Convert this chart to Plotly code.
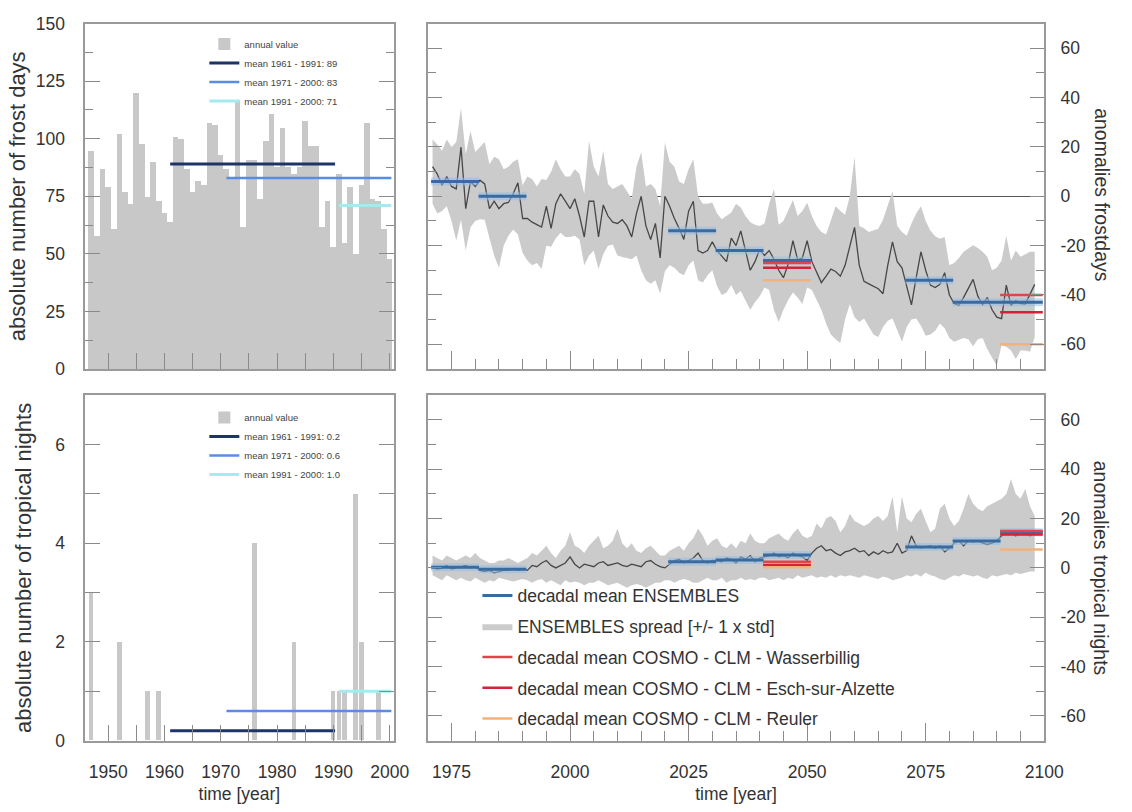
import plotly.graph_objects as go

# ---------------- data ----------------
obs_years = list(range(1947, 2001))
frost_obs = [95, 58, 87, 79, 61, 102, 77, 72, 120, 98,
             75, 90, 73, 68, 64, 101, 100, 87, 77, 82,
             80, 107, 106, 93, 87, 83, 117, 62, 91, 91,
             74, 99, 111, 88, 105, 88, 85, 88, 108, 97,
             97, 62, 73, 53, 85, 55, 79, 50, 80, 107,
             74, 73, 61, 48]
tropical_obs = [3, 0, 0, 0, 0, 2, 0, 0, 0, 0,
                1, 0, 1, 0, 0, 0, 0, 0, 0, 0,
                0, 0, 0, 0, 0, 0, 0, 0, 0, 4,
                0, 0, 0, 0, 0, 0, 2, 0, 0, 0,
                0, 0, 0, 1, 1, 1, 0, 5, 2, 0,
                0, 1, 0, 0]

mean_periods = [(1961, 1990), (1971, 2000), (1991, 2000)]
mean_labels = ["mean 1961 - 1991", "mean 1971 - 2000", "mean 1991 - 2000"]
frost_means = [89, 83, 71]
tropical_means = [0.2, 0.6, 1.0]

scen_years = list(range(1971, 2099))
frost_ens = [12, 9, 4.5, 8, 4, 3, 20, -5, 6, 4,
             6.5, 5, -5, -2, -5, -3, -2.5, 1, 5.5, -9,
             -9, -10.5, -11.5, -12.5, -4, -13, -3, 1, -2, -5,
             -1, -8, -16.5, -2, -2, -16.5, -3.5, -8, -10.5, -11,
             -9.5, -12, -16.5, -7, 0, -12, -17.5, -11, -25, 0,
             -4, -9, -13, -17.5, -6, -2, -22, -23, -22, -18.5,
             -22, -24.5, -26.5, -17, -20, -14, -22, -30, -26.5, -21.5,
             -24, -22, -25.5, -30, -33, -27.5, -18, -25.8, -25, -18,
             -26.5, -31, -35, -32.4, -29.5, -30.5, -32.4, -28, -20, -12.6,
             -28, -34.5, -35.5, -36.5, -37.5, -39.5, -28, -18.5, -26.5, -29,
             -36, -44, -33, -22.5, -30, -36, -37, -35.7, -31, -40,
             -43.5, -44.3, -41, -37, -33.7, -40.5, -44, -41, -46, -49,
             -49.6, -36, -44.3, -42.3, -43.5, -43.7, -40, -35.7]
frost_upper = [23, 21, 18.5, 23, 20, 22, 35.7, 17, 26.5, 18,
               20, 22, 13, 16, 15, 11, 12, 14, 15, 4.5,
               8, 7, 4, 7, 6.6, 10, 15, 11, 8, 8,
               11, 9, 1, 22.5, 12, 8, 18.5, 5, 3, 4,
               5, 2, -1, 12, 17.9, 4, 5, 3, -4, 21.8,
               14, 12, 6, 5, 11, 15, 0, -3, -3, -2.5,
               -7, -9.3, -8, -6.6, -3, -4.5, -8, -10.5, -11.5, -12,
               -11, -3, 3, -11.5, -10, -6, -1.5, -8, -6, -2.6,
               -8, -12, -14.5, -15.5, -10, -4, -6, -7.5, 0, 15.9,
               -12, -13, -14.5, -14, -13.2, -9.5, -4, 2, -12, -14.5,
               -16, -11, -7, -4, -10, -14, -16.2, -17.2, -16.5, -28,
               -27, -25, -22.5, -21, -19.8, -21, -22.5, -24.5, -30, -29,
               -26, -16, -26, -22, -24.5, -23.5, -22.5, -22.5]
frost_lower = [-3, -7, -6, -4, -10, -18, -9.5, -22, -12.5, -10,
               -9.3, -9.5, -17, -24, -29, -20, -16, -13.5, -15.5, -23,
               -26, -28, -27, -29.5, -20, -20.5, -17, -14.8, -16.5, -16.5,
               -16, -17.5, -28, -24, -22, -29.5, -23.5, -20, -19.5, -24,
               -24.6, -25, -25.5, -24, -30, -34, -35.5, -34, -39.5, -30.4,
               -28, -29, -31, -32, -28, -26, -34, -35, -32, -30,
               -36.5, -40, -39, -36, -40, -38.4, -42, -46, -43, -40.5,
               -37, -38, -46, -51, -46, -42, -39, -41, -43.7, -37,
               -38, -42.3, -46, -51.6, -56, -58, -59.5, -50, -43.7, -49,
               -51, -49.5, -53, -56, -57, -53, -50.5, -49.5, -54.2, -59,
               -53, -50, -49.5, -52.5, -56.5, -56, -54.5, -51.6, -53.5, -57.5,
               -59, -58.3, -57.5, -58, -60.8, -58, -57.5, -62, -65.5, -68.8,
               -60.5, -61, -62.5, -66, -62.5, -62.5, -63, -57]

trop_ens = [0.5, -0.5, 0, 1, -0.5, 0, 0.5, 1, 0, 0.5,
            -1, -1.5, -1, -2, -1.5, -1, -1, -0.5, -1, -0.5,
            -1, 1, 0.5, 2, 3, 1, 0, 1, 2, 4.5,
            1.5, 0, 1.5, 1, 0.5, 2, 2.5, 1, 1.5, 2,
            1, 0.5, 1.5, 1, 0.5, 2.5, 3, 1.5, 0.5, 0,
            1.5, 3, 3.5, 2, 3, 4, 6, 3, 2, 3,
            3, 2.5, 4, 3.5, 2, 4.5, 3.5, 5, 2.5, 4,
            4.5, 5, 6, 4.5, 5, 4, 6, 5, 4.5, 3,
            6, 8, 9, 7, 7.5, 6, 5, 6.5, 7, 8,
            6.5, 7, 5, 6.5, 5.5, 7, 6, 6.5, 10, 6,
            7, 13, 9, 8, 8.5, 9, 8, 9, 6.5, 8,
            10, 11, 9, 11, 10.5, 11, 10, 9.5, 10, 11,
            13, 14, 14.5, 13, 15, 14, 13, 14.5]
trop_upper = [5, 4, 3, 5, 4, 3, 4, 5, 4, 6,
              4, 3, 2, 2, 3, 3, 4, 3, 2, 3,
              4, 6, 5, 7, 9, 6, 4, 7, 9, 14.5,
              9, 8, 6, 9, 11, 13, 8, 9, 11, 16,
              10, 8, 10, 7, 6, 8, 9, 7, 5, 5,
              7, 8, 9, 7, 10, 12, 16, 13, 9, 11,
              12, 9, 8, 10, 8, 11, 10, 14, 11, 10,
              10, 12, 13, 14, 12, 11, 14, 16, 13, 12,
              13, 18, 16, 20, 21, 19, 14.5, 17, 22, 19,
              18, 17, 18, 20, 21, 19, 21, 29, 14.5, 29,
              20, 18.5, 22, 24, 19, 14.5, 16, 24, 26, 20,
              17, 19, 24, 30, 26, 24, 23, 25, 26, 27,
              28, 30, 36, 30, 28, 32, 25, 21]
trop_lower = [-3, -4, -5, -3, -4, -5, -4, -5, -5.5, -4,
              -5, -6, -5, -5.5, -4, -4.5, -5, -5.5, -5, -4.5,
              -5, -6, -5, -4.5, -6, -5, -6, -7, -5, -6,
              -5.5, -6, -7, -6, -6, -5, -6, -7, -6.5, -6,
              -7, -8, -7, -6.5, -7, -8, -7, -6, -6, -5,
              -5, -6, -5, -4.5, -5, -6, -6, -5, -4, -5,
              -5, -4, -6, -5, -5, -4, -5, -4.5, -5, -4,
              -4, -5, -4.5, -4, -5, -4, -4.5, -3, -4, -3.5,
              -3, -4, -3.5, -4, -3, -4, -3, -3.5, -3, -3.5,
              -4, -3, -3.5, -4, -4.5, -3.5, -4, -5, -4.5, -4,
              -3, -3.5, -2.5, -3.5, -2, -3, -3.5, -4.5, -5, -4,
              -3, -3.5, -2.5, -3, -3.5, -3, -4, -4.5, -3, -3.5,
              -3, -2.5, -3, -2, -2.5, -2, -1.5, -1.5]

decades = [1971, 1981, 2021, 2031, 2041, 2071, 2081, 2091]
frost_dec_ens = [6, 0, -14, -22, -26, -34, -43, -43]
trop_dec_ens = [0.3, -0.5, 2.5, 3.2, 5.2, 8.5, 10.9, 14.5]
cosmo_decades = [2041, 2091]
cosmo_names = ["Wasserbillig", "Esch-sur-Alzette", "Reuler"]
frost_cosmo = {"Wasserbillig": [-27, -40], "Esch-sur-Alzette": [-29, -47], "Reuler": [-34, -60]}
trop_cosmo = {"Wasserbillig": [2.5, 15], "Esch-sur-Alzette": [1.2, 13.5], "Reuler": [0.3, 7.5]}

anom_ticks = [-60, -40, -20, 0, 20, 40, 60]
anom_ticktext = ["-60", "-40", "-20", "0", "20", "40", "60"]

# ---------------- styling ----------------
FONT = "Liberation Sans, Arial, sans-serif"
TXT = "#333333"
GREY_BAR = "#c8c8c8"
BAND = "#cbcbcb"
MEAN_COLORS = ["#1c3468", "#5b8ce4", "#a6eaf0"]
MEAN_WIDTHS = [3, 2.5, 3]
ENS_BLUE = "#3a6a9e"
COSMO_COLORS = {"Wasserbillig": "#e2434c", "Esch-sur-Alzette": "#d42239", "Reuler": "#f3b27a"}
TICK_SIZE = 17.5
LTITLE_SIZE = 22
RTITLE_SIZE = 19.5


def seg_xy(starts, values, length):
    xs, ys = [], []
    for s, v in zip(starts, values):
        xs += [s - 0.3, min(s + length, 2099.7), None]
        ys += [v, v, None]
    return xs, ys


fig = go.Figure()

for (xa, ya, vals, means, leg, fmt, bw) in [
        ("x", "y", frost_obs, frost_means, "legend", "{:d}", 1.0),
        ("x3", "y3", tropical_obs, tropical_means, "legend2", "{:.1f}", 0.8)]:
    fig.add_trace(go.Bar(x=obs_years, y=vals, width=bw, marker_color=GREY_BAR,
                         marker_line_width=0, name="annual value",
                         xaxis=xa, yaxis=ya, legend=leg, legendgroup=leg + "a"))
    for i, ((a, b), m) in enumerate(zip(mean_periods, means)):
        fig.add_trace(go.Scatter(x=[a, b + 0.3], y=[m, m], mode="lines",
                                 line=dict(color=MEAN_COLORS[i], width=MEAN_WIDTHS[i]),
                                 name=mean_labels[i] + ": " + fmt.format(m),
                                 xaxis=xa, yaxis=ya, legend=leg,
                                 legendgroup=leg + str(i)))

for (xa, ya, ens, up, lo, dec, cos, show) in [
        ("x2", "y2", frost_ens, frost_upper, frost_lower, frost_dec_ens, frost_cosmo, False),
        ("x4", "y4", trop_ens, trop_upper, trop_lower, trop_dec_ens, trop_cosmo, True)]:
    fig.add_trace(go.Scatter(x=scen_years, y=up, mode="lines", line=dict(width=0),
                             showlegend=False, hoverinfo="skip", xaxis=xa, yaxis=ya))
    fig.add_trace(go.Scatter(x=scen_years, y=lo, mode="lines", line=dict(width=0),
                             fill="tonexty", fillcolor=BAND,
                             name="ENSEMBLES spread [+/- 1 x std]", showlegend=show,
                             legend="legend3", legendgroup="g2", legendrank=2,
                             xaxis=xa, yaxis=ya))
    fig.add_trace(go.Scatter(x=scen_years, y=ens, mode="lines",
                             line=dict(color="#474747", width=1.3),
                             showlegend=False, xaxis=xa, yaxis=ya))
    sx, sy = seg_xy(decades, dec, 9.8)
    fig.add_trace(go.Scatter(x=sx, y=sy, mode="lines",
                             line=dict(color="rgba(150,190,230,0.55)", width=8),
                             showlegend=False, hoverinfo="skip", xaxis=xa, yaxis=ya))
    fig.add_trace(go.Scatter(x=sx, y=sy, mode="lines",
                             line=dict(color=ENS_BLUE, width=3),
                             name="decadal mean ENSEMBLES", showlegend=show,
                             legend="legend3", legendgroup="g1", legendrank=1,
                             xaxis=xa, yaxis=ya))
    for k, nm in enumerate(cosmo_names):
        cx, cy = seg_xy(cosmo_decades, cos[nm], 9.8)
        fig.add_trace(go.Scatter(x=cx, y=cy, mode="lines",
                                 line=dict(color=COSMO_COLORS[nm], width=2.5),
                                 name="decadal mean COSMO - CLM - " + nm, showlegend=show,
                                 legend="legend3", legendgroup="g" + str(3 + k),
                                 legendrank=3 + k, xaxis=xa, yaxis=ya))

W, H = 1132, 812
xl = [86.7 / W, 400.7 / W]
xr = [435.5 / W, 1063 / W]
yt = [1 - 368 / H, 1 - 14 / H]
yb = [1 - 749 / H, 1 - 395 / H]

tickfont = dict(family=FONT, size=TICK_SIZE, color=TXT)
axcommon = dict(showline=True, linecolor="#9a9a9a", linewidth=1.5, mirror="ticks",
                ticks="inside", tickcolor="#8a8a8a", showgrid=False, zeroline=False,
                tickfont=tickfont)
xcommon = dict(axcommon, mirror=True)

xl_axis = dict(xcommon, range=[1945.9, 2000.7], tickmode="linear", tick0=1950, dtick=10,
               ticklen=16, minor=dict(dtick=5, tick0=1950, ticks="inside", ticklen=16,
                                      tickcolor="#8a8a8a"), ticklabelstandoff=15)
xr_axis = dict(xcommon, range=[1970, 2100], tickmode="linear", tick0=1975, dtick=25,
               ticklen=18, minor=dict(dtick=5, tick0=1975, ticks="inside", ticklen=10,
                                      tickcolor="#8a8a8a"), ticklabelstandoff=15)
yr_axis = dict(axcommon, range=[-70, 70], tickmode="array", tickvals=anom_ticks,
               ticktext=anom_ticktext, side="right",
               ticklen=14, zeroline=True, zerolinecolor="#555555", zerolinewidth=1,
               minor=dict(dtick=10, tick0=0, ticks="inside", ticklen=8, tickcolor="#8a8a8a"),
               ticklabelstandoff=11)
xtitle = dict(text="time [year]", font=dict(family=FONT, size=TICK_SIZE, color=TXT), standoff=6)

fig.update_layout(
    width=W, height=H, margin=dict(l=0, r=0, t=0, b=0),
    paper_bgcolor="white", plot_bgcolor="white",
    font=dict(family=FONT, color=TXT), bargap=0,
    xaxis=dict(xl_axis, domain=xl, anchor="y", showticklabels=False),
    yaxis=dict(axcommon, domain=yt, anchor="x", range=[0, 150], tickmode="linear", tick0=0,
               dtick=25, ticklen=15, ticklabelstandoff=15,
               minor=dict(dtick=12.5, ticks="inside", ticklen=8, tickcolor="#8a8a8a"),
               title=dict(text="absolute number of frost days",
                          font=dict(family=FONT, size=LTITLE_SIZE, color=TXT), standoff=4)),
    xaxis3=dict(xl_axis, domain=xl, anchor="y3", title=xtitle),
    yaxis3=dict(axcommon, domain=yb, anchor="x3", range=[0, 7], tickmode="linear", tick0=0,
                dtick=2, ticklen=15, ticklabelstandoff=15,
                minor=dict(dtick=1, ticks="inside", ticklen=15, tickcolor="#8a8a8a"),
                title=dict(text="absolute number of tropical nights",
                           font=dict(family=FONT, size=LTITLE_SIZE, color=TXT), standoff=17)),
    xaxis2=dict(xr_axis, domain=xr, anchor="y2", showticklabels=False),
    yaxis2=dict(yr_axis, domain=yt, anchor="x2"),
    xaxis4=dict(xr_axis, domain=xr, anchor="y4", title=xtitle),
    yaxis4=dict(yr_axis, domain=yb, anchor="x4"),
    legend=dict(x=208 / W, y=1 - 20 / H, xanchor="left", yanchor="top",
                bgcolor="rgba(0,0,0,0)", font=dict(family=FONT, size=9.5, color="#444"),
                tracegroupgap=0, itemwidth=30),
    legend2=dict(x=208 / W, y=1 - 403 / H, xanchor="left", yanchor="top",
                 bgcolor="rgba(0,0,0,0)", font=dict(family=FONT, size=9.5, color="#444"),
                 tracegroupgap=0, itemwidth=30),
    legend3=dict(x=486 / W, y=1 - 582 / H, xanchor="left", yanchor="top",
                 bgcolor="rgba(0,0,0,0)", font=dict(family=FONT, size=TICK_SIZE, color=TXT),
                 tracegroupgap=5, itemwidth=30, traceorder="grouped"),
    annotations=[
        dict(text="anomalies frostdays", textangle=90, x=1121 / W, y=1 - 190 / H,
             xref="paper", yref="paper", xanchor="center", yanchor="middle", showarrow=False,
             font=dict(family=FONT, size=RTITLE_SIZE, color=TXT)),
        dict(text="anomalies tropical nights", textangle=90, x=1121 / W, y=1 - 572 / H,
             xref="paper", yref="paper", xanchor="center", yanchor="middle", showarrow=False,
             font=dict(family=FONT, size=RTITLE_SIZE, color=TXT)),
    ],
)

fig.write_html("out.html")
